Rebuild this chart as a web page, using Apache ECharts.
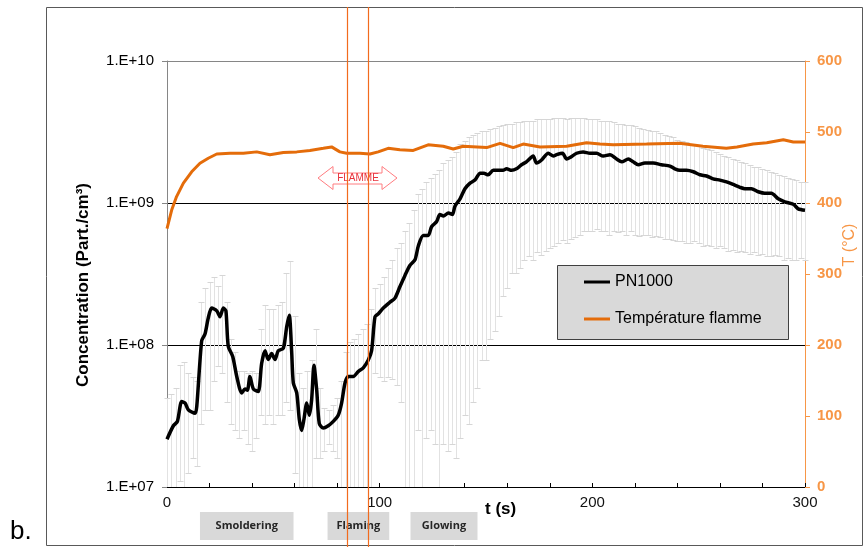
<!DOCTYPE html>
<html><head><meta charset="utf-8">
<script src="https://cdn.jsdelivr.net/npm/echarts@6/dist/echarts.min.js"></script>
<style>html,body{margin:0;padding:0;background:#fff}#c{width:864px;height:547px}</style>
</head><body><div id="c"></div>
<script>
// PN1000 mean concentration (Part./cm3)
const pnTime = [0,3,4.9,6.9,8.5,10,13.2,14,16.3,17.9,19.4,21,23.4,24.9,26.5,27.7,28.8,30.9,32.8,35.1,36.7,37.8,39,40.6,42.9,44.5,46.1,47.6,49.2,50.8,52.3,54.7,56.3,57.5,58.6,59.4,61,62.2,63.3,64.4,65.7,66.9,68,69.1,70.4,71.6,73.5,75.8,78.2,80.5,82.1,83.7,85.2,87.6,89.9,92.3,94.6,96.2,97.8,99.4,101.7,104.8,107.2,109.5,111.9,114.2,116.6,118.2,120.5,122.8,124.4,126.8,128.3,130,132.3,134.2,135.4,137.8,140.1,142.5,144.8,147.2,149,151,153.4,155.7,158,159.7,162,164.3,166.7,169,172.2,173.7,176,179.3,181.7,183.2,186,187.9,189.5,192.6,195.7,198.9,202,205.1,208.3,211.4,213.8,216.9,219.2,221.6,224.7,228.6,232.5,236.5,238.8,241.2,244.3,247.5,250.6,253.7,256.8,260,263.1,266.3,269.4,271.7,274.8,278,281.1,284.2,287.4,290.5,294.5,296.8,300];
const pnValue = [2.17e7,2.7e7,2.9e7,4.0e7,3.9e7,3.5e7,3.3e7,3.7e7,1.07e8,1.2e8,1.55e8,1.82e8,1.74e8,1.58e8,1.82e8,1.74e8,9.8e7,8.3e7,6.0e7,4.6e7,4.9e7,4.8e7,6.0e7,4.9e7,4.7e7,7.4e7,9.1e7,7.9e7,8.7e7,7.9e7,9.1e7,9.5e7,1.35e8,1.62e8,9.1e7,5.4e7,4.6e7,3.0e7,2.5e7,3.0e7,3.9e7,3.2e7,4.1e7,7.2e7,4.8e7,2.8e7,2.6e7,2.7e7,2.9e7,3.2e7,3.9e7,5.4e7,6.0e7,6.0e7,6.5e7,6.9e7,7.8e7,9.1e7,1.58e8,1.66e8,1.82e8,2.0e8,2.14e8,2.57e8,3.09e8,3.63e8,3.98e8,5.0e8,5.9e8,5.9e8,6.8e8,7.4e8,8.3e8,8.1e8,8.5e8,8.3e8,9.5e8,1.07e9,1.26e9,1.38e9,1.45e9,1.62e9,1.62e9,1.58e9,1.70e9,1.70e9,1.70e9,1.74e9,1.70e9,1.74e9,1.86e9,1.95e9,2.14e9,1.91e9,2.0e9,2.24e9,2.14e9,2.19e9,2.24e9,2.04e9,2.09e9,2.24e9,2.29e9,2.24e9,2.24e9,2.14e9,2.19e9,2.04e9,1.95e9,2.04e9,1.95e9,1.86e9,1.91e9,1.91e9,1.86e9,1.82e9,1.74e9,1.70e9,1.70e9,1.66e9,1.58e9,1.55e9,1.48e9,1.45e9,1.41e9,1.35e9,1.29e9,1.26e9,1.26e9,1.2e9,1.17e9,1.17e9,1.07e9,1.02e9,9.8e8,9.1e8,8.9e8];
// Flame temperature (°C)
const tempTime = [0,2.2,4.5,7.7,11.6,15.5,19.4,23.4,29.6,35.9,42.2,48.4,54.7,61,67.2,73.5,77.4,81.3,84.5,90.7,95.4,99.3,104,109.5,115.8,122.8,129.9,134.6,139.3,150.3,156.6,162.8,167.5,175.4,187.9,197.3,203.6,209.8,225.5,241,252,263,268,275.6,282,289.8,294.5,300];
const tempValue = [364,390,409,428,444,456,463,469,470,470,472,468,471,472,474,477,479,472,470,470,469,472,477,475,474,482,480,476,480,478,484,478,483,479,480,485,483,482,483,484,480,477,479,483,485,489,486,486];
// Error bars (upper / lower bound, 0 = below the axis)
const errTime = [0,2,4,6,8,10,12,14,16,18,20,22,24,26,28,30,32,34,36,38,40,42,44,46,48,50,52,54,56,58,60,62,64,66,68,70,72,74,76,78,80,82,84,86,88,90,92,94,96,98,100,102,104,106,108,110,112,114,116,118,120,122,124,126,128,130,132,134,136,138,140,142,144,146,148,150,152,154,156,158,160,162,164,166,168,170,172,174,176,178,180,182,184,186,188,190,192,194,196,198,200,202,204,206,208,210,212,214,216,218,220,222,224,226,228,230,232,234,236,238,240,242,244,246,248,250,252,254,256,258,260,262,264,266,268,270,272,274,276,278,280,282,284,286,288,290,292,294,296,298,300];
const errUpper = [4.2e7,4.5e7,5.0e7,7.2e7,7.6e7,6.3e7,6.0e7,5.6e7,2.0e8,2.5e8,2.8e8,3.0e8,2.6e8,3.1e8,2.0e8,1.1e8,8.9e7,6.6e7,6.6e7,6.3e7,6.6e7,6.3e7,1.3e8,1.9e8,1.8e8,1.8e8,1.9e8,2.0e8,3.2e8,3.9e8,1.6e8,6.3e7,5.0e7,6.6e7,7.9e7,1.3e8,5.0e7,3.6e7,3.5e7,3.8e7,4.2e7,5.6e7,8.9e7,1.05e8,1.1e8,1.2e8,1.3e8,1.4e8,1.8e8,2.5e8,2.7e8,3.0e8,3.5e8,4.0e8,4.8e8,5.2e8,6.3e8,7.2e8,8.9e8,1.15e9,1.26e9,1.4e9,1.5e9,1.6e9,1.7e9,1.9e9,2.0e9,2.1e9,2.3e9,2.6e9,2.75e9,2.9e9,3.0e9,3.1e9,3.2e9,3.2e9,3.3e9,3.4e9,3.5e9,3.55e9,3.6e9,3.6e9,3.7e9,3.7e9,3.8e9,3.8e9,3.8e9,3.9e9,3.9e9,3.9e9,3.9e9,4.0e9,4.0e9,4.0e9,3.9e9,4.0e9,4.0e9,4.0e9,4.0e9,3.9e9,3.9e9,3.9e9,3.8e9,3.8e9,3.8e9,3.7e9,3.6e9,3.6e9,3.55e9,3.55e9,3.5e9,3.4e9,3.3e9,3.25e9,3.2e9,3.2e9,3.1e9,3.0e9,2.95e9,2.9e9,2.8e9,2.75e9,2.7e9,2.6e9,2.55e9,2.5e9,2.45e9,2.4e9,2.35e9,2.3e9,2.2e9,2.15e9,2.1e9,2.05e9,2.0e9,1.95e9,1.9e9,1.85e9,1.8e9,1.78e9,1.74e9,1.7e9,1.66e9,1.62e9,1.58e9,1.55e9,1.5e9,1.48e9,1.45e9,1.41e9,1.41e9];
const errLower = [0,0,0,1.1e7,0,1.26e7,1.6e7,1.4e7,2.8e7,3.5e7,3.5e7,5.6e7,7.1e7,6.3e7,4.0e7,2.8e7,2.5e7,2.2e7,2.5e7,2.0e7,1.8e7,2.2e7,3.2e7,2.8e7,3.2e7,2.8e7,3.2e7,3.2e7,4.0e7,3.5e7,1.26e7,0,0,0,0,1.6e7,1.6e7,1.8e7,2.0e7,1.8e7,1.6e7,0,0,0,0,0,0,0,0,6.3e7,6.0e7,5.6e7,6.0e7,5.75e7,5.2e7,4.0e7,0,0,0,2.5e7,0,2.2e7,2.5e7,2.0e7,0,2.0e7,1.8e7,2.0e7,1.6e7,2.2e7,3.2e7,2.8e7,4.0e7,5.0e7,7.9e7,7.9e7,1.1e8,1.26e8,1.6e8,2.2e8,2.5e8,3.2e8,3.2e8,3.5e8,4.0e8,4.2e8,4.0e8,4.5e8,4.3e8,4.6e8,4.8e8,5.0e8,5.2e8,5.5e8,5.2e8,5.6e8,5.75e8,6.0e8,6.3e8,6.3e8,6.3e8,6.6e8,6.3e8,6.3e8,6.0e8,6.3e8,6.2e8,6.3e8,6.0e8,6.3e8,6.0e8,5.9e8,6.0e8,6.0e8,5.75e8,5.9e8,5.75e8,5.6e8,5.6e8,5.5e8,5.4e8,5.4e8,5.25e8,5.25e8,5.4e8,5.25e8,5.0e8,5.1e8,5.0e8,4.8e8,5.0e8,4.8e8,4.6e8,4.7e8,4.5e8,4.6e8,4.5e8,4.4e8,4.5e8,4.3e8,4.4e8,4.2e8,4.2e8,4.3e8,4.2e8,4.0e8,4.1e8,4.0e8,4.0e8,4.1e8,4.0e8];
const flameLimits = [84.5, 94.5];
const phaseNames = ['Smoldering', 'Flaming', 'Glowing'];
const phaseStart = [15.5, 75.5, 114.5];
const phaseEnd = [59.5, 104.5, 146];
const seriesNames = ['PN1000', 'Température flamme'];

const FONT = 'Liberation Sans, Arial, sans-serif';
const chart = echarts.init(document.getElementById('c'));

const errData = errTime.map((t, i) => [t, errUpper[i], errLower[i]]);
function renderErr(params, api) {
  const cs = params.coordSys;
  const t = api.value(0), up = api.value(1), lo = api.value(2);
  const top = api.coord([t, up]);
  const x = Math.round(top[0]) + 0.5;
  const yt = Math.round(top[1]) + 0.5;
  const bottom = cs.y + cs.height;
  let yb = bottom, cap = false;
  if (lo > 0) {
    const c = api.coord([t, lo])[1];
    if (c < bottom) { yb = Math.round(c) + 0.5; cap = true; }
  }
  const ch = [
    {type: 'line', shape: {x1: x, y1: yt, x2: x, y2: yb}, style: {stroke: '#e2e2e2', lineWidth: 1}},
    {type: 'line', shape: {x1: x - 3, y1: yt, x2: x + 3, y2: yt}, style: {stroke: '#d6d6d6', lineWidth: 1}}
  ];
  if (cap) ch.push({type: 'line', shape: {x1: x - 3, y1: yb, x2: x + 3, y2: yb}, style: {stroke: '#d6d6d6', lineWidth: 1}});
  return {type: 'group', children: ch};
}

chart.setOption({
  animation: false,
  backgroundColor: '#fff',
  textStyle: {fontFamily: FONT},
  grid: {left: 167, right: 59, top: 61, bottom: 60, containLabel: false},
  legend: {
    data: seriesNames.map(n => ({name: n, icon: 'rect'})),
    orient: 'vertical', left: 584, top: 273, padding: 0,
    itemWidth: 26, itemHeight: 3, itemGap: 19,
    textStyle: {fontFamily: FONT, fontSize: 16, color: '#000', lineHeight: 18}
  },
  xAxis: {
    type: 'value', min: 0, max: 300, interval: 20,
    axisLine: {lineStyle: {color: '#000', width: 1}},
    axisTick: {show: true, inside: true, length: 4, lineStyle: {color: '#000'}},
    axisLabel: {formatter: v => (v % 100 === 0 ? String(v) : ''), fontSize: 15, color: '#111', margin: 8, fontFamily: FONT},
    splitLine: {show: false}
  },
  yAxis: [
    {
      type: 'log', logBase: 10, min: 1e7, max: 1e10,
      axisLine: {show: true, lineStyle: {color: '#868686'}},
      axisTick: {show: true, length: 5, lineStyle: {color: '#868686'}},
      axisLabel: {formatter: v => '1.E+' + String(Math.round(Math.log10(v))).padStart(2, '0'), fontSize: 15, color: '#000', margin: 13, fontFamily: FONT},
      splitLine: {show: true, lineStyle: {color: ['#868686', '#000', '#000', '#868686'], width: 1}},
      minorTick: {show: false}, minorSplitLine: {show: false}
    },
    {
      type: 'value', min: 0, max: 600, interval: 100, position: 'right',
      axisLine: {show: true, lineStyle: {color: '#F79646'}},
      axisTick: {show: true, length: 5, lineStyle: {color: '#F79646'}},
      axisLabel: {fontSize: 15, fontWeight: 'bold', color: '#F79646', margin: 12, fontFamily: FONT},
      splitLine: {show: false}
    }
  ],
  series: [
    {
      type: 'custom', name: 'err', data: errData, renderItem: renderErr,
      encode: {x: 0, y: 1}, yAxisIndex: 0, z: 1, silent: true
    },
    {
      type: 'line', name: seriesNames[0], yAxisIndex: 0,
      data: pnTime.map((t, i) => [t, pnValue[i]]),
      showSymbol: false, smooth: 0.25, color: '#000',
      lineStyle: {color: '#000', width: 3.5}, z: 3
    },
    {
      type: 'line', name: seriesNames[1], yAxisIndex: 1,
      data: tempTime.map((t, i) => [t, tempValue[i]]),
      showSymbol: false, smooth: false, color: '#E46C0A',
      lineStyle: {color: '#E46C0A', width: 3}, z: 3
    }
  ]
});

// annotations positioned from the axes
const fx = flameLimits.map(v => Math.round(chart.convertToPixel({xAxisIndex: 0}, v)) + 0.5);
const boxes = phaseNames.map((n, i) => {
  const x1 = chart.convertToPixel({xAxisIndex: 0}, phaseStart[i]);
  const x2 = chart.convertToPixel({xAxisIndex: 0}, phaseEnd[i]);
  return {
    type: 'group', children: [
      {type: 'rect', shape: {x: x1, y: 512, width: x2 - x1, height: 28}, style: {fill: '#d9d9d9'}},
      {type: 'text', style: {x: (x1 + x2) / 2, y: 526, text: n, align: 'center', verticalAlign: 'middle', font: 'bold 11px "Open Sans", sans-serif', fill: '#262626'}}
    ]
  };
});

chart.setOption({
  graphic: [
    {type: 'rect', shape: {x: 46.5, y: 7.5, width: 816, height: 538}, style: {fill: null, stroke: '#595959', lineWidth: 1}, z: 0, silent: true},
    {type: 'rect', shape: {x: 557.5, y: 265.5, width: 231, height: 74}, style: {fill: '#d9d9d9', stroke: '#404040', lineWidth: 1}, z: -1},
    ...boxes,
    {type: 'line', shape: {x1: fx[0], y1: 7, x2: fx[0], y2: 547}, style: {stroke: '#F26B1D', lineWidth: 1.2}, z: 100},
    {type: 'line', shape: {x1: fx[1], y1: 7, x2: fx[1], y2: 547}, style: {stroke: '#F26B1D', lineWidth: 1.2}, z: 100},
    {type: 'polygon', shape: {points: [[318, 178], [333, 166.5], [333, 173], [382, 173], [382, 166.5], [397, 178], [382, 189.5], [382, 184], [333, 184], [333, 189.5]]},
      style: {fill: '#fff', stroke: '#FF7C80', lineWidth: 1}, z: 11},
    {type: 'text', style: {x: 358, y: 178.5, text: 'FLAMME', align: 'center', verticalAlign: 'middle', font: '10px ' + FONT, fill: '#E8303A'}, z: 12},
    {type: 'text', style: {x: 485, y: 509, text: 't (s)', align: 'left', verticalAlign: 'middle', font: 'bold 17px ' + FONT, fill: '#000'}, z: 12},
    {type: 'text', rotation: Math.PI / 2, x: 83, y: 285, style: {x: 0, y: 0, text: 'Concentration (Part./cm³)', align: 'center', verticalAlign: 'middle', font: 'bold 17px ' + FONT, fill: '#000'}, z: 12},
    {type: 'text', rotation: Math.PI / 2, x: 850, y: 245, style: {x: 0, y: 0, text: 'T (°C)', align: 'center', verticalAlign: 'middle', font: '16px ' + FONT, fill: '#F79646'}, z: 12},
    {type: 'text', style: {x: 10, y: 545, text: 'b.', align: 'left', verticalAlign: 'bottom', font: '26px ' + FONT, fill: '#000'}, z: 12}
  ]
});
</script></body></html>
